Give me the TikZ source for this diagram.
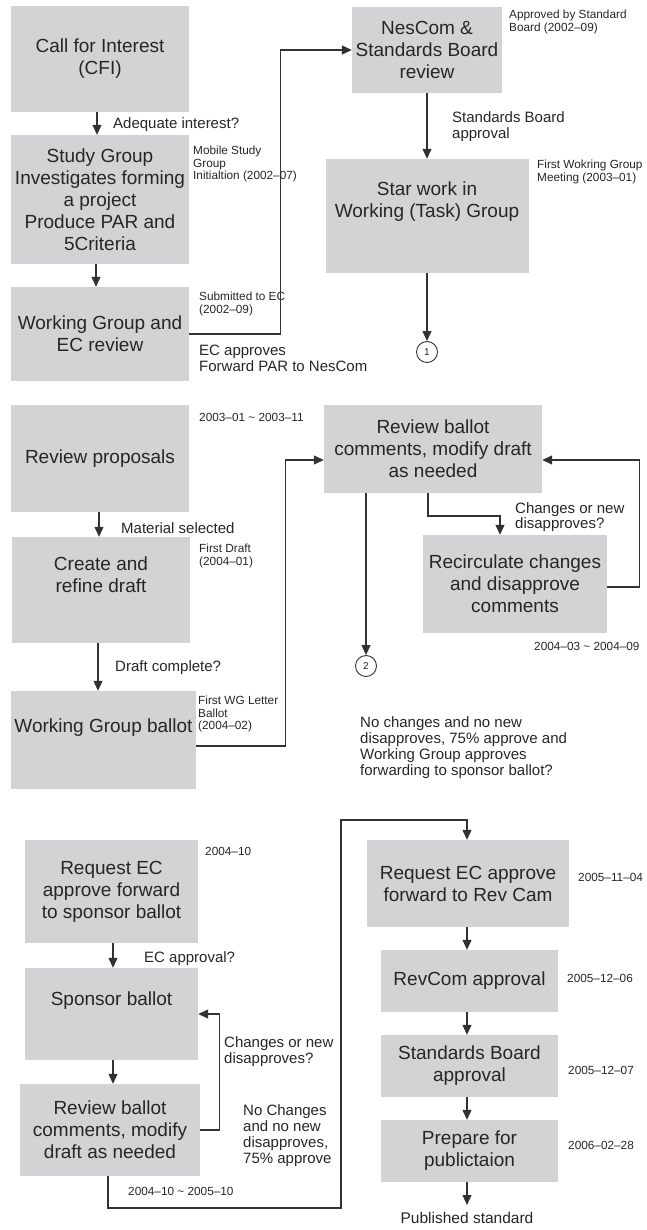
\documentclass[tikz,border=0pt]{standalone}
\usepackage{fontspec}
\setmainfont{Liberation Sans}
\usetikzlibrary{arrows.meta}
\definecolor{boxgray}{RGB}{211,211,213}
\definecolor{ink}{RGB}{38,38,38}
\definecolor{wirec}{RGB}{50,50,50}
\begin{document}
\begin{tikzpicture}[x=1pt,y=-1pt,
 box/.style={fill=boxgray, inner sep=0pt, align=center, font=\fontsize{19}{22}\selectfont, text=ink},
 lab/.style={inner sep=0pt, align=left, anchor=north west, font=\fontsize{15}{16}\selectfont, text=ink},
 note/.style={inner sep=0pt, align=left, anchor=north west, font=\fontsize{11.8}{12.5}\selectfont, text=ink},
 wire/.style={draw=wirec, line width=1.1pt},
 arr/.style={wire, -{Triangle[length=10pt,width=9pt]}},
 num/.style={circle, draw=wirec, line width=0.9pt, minimum size=21pt, inner sep=0pt, font=\fontsize{10}{10}\selectfont, text=ink}
]
\useasboundingbox (0,0) rectangle (647,1230);

% ---------- Section 1 ----------
\node[box, minimum width=178pt, minimum height=106pt] (cfi) at (100,59) {Call for Interest\\(CFI)};
\node[box, minimum width=178pt, minimum height=129pt] (sg) at (100,199.5) {Study Group\\Investigates forming\\a project\\Produce PAR and\\5Criteria};
\node[box, minimum width=178pt, minimum height=94pt] (wgec) at (100,334) {Working Group and\\EC review};
\node[box, minimum width=150pt, minimum height=86pt] (nescom) at (427,50) {NesCom \&\\Standards Board\\review};
\node[box, minimum width=203pt, minimum height=114pt] (star) at (427,216) {Star work in\\Working (Task) Group\\[10pt]};
\node[num] (c1) at (427,352) {1};

\node[lab] (l1) at (113,117) {Adequate interest?};
\node[note] (n1) at (193,146) {Mobile Study\\Group\\Initialtion (2002--07)};
\node[note] (n2) at (199,292) {Submitted to EC\\(2002--09)};
\node[lab] (l2) at (199,345) {EC approves\\Forward PAR to NesCom};
\node[note] (n3) at (509,10) {Approved by Standard\\Board (2002--09)};
\node[lab] (l3) at (452,111) {Standards Board\\approval};
\node[note] (n4) at (537,160) {First Wokring Group\\Meeting (2003--01)};

\draw[arr] ([xshift=-3pt]cfi.south) -- ([xshift=-3pt]sg.north);
\draw[arr] ([xshift=-4pt]sg.south) -- ([xshift=-4pt]wgec.north);
\draw[arr] (wgec.east) -- ++(91,0) |- (nescom.west);
\draw[arr] (nescom.south) -- (star.north);
\draw[arr] (star.south) -- (c1.north);

% ---------- Section 2 ----------
\node[box, minimum width=178pt, minimum height=107pt] (rp) at (100,458.5) {Review proposals};
\node[box, minimum width=178pt, minimum height=106pt] (crd) at (101,590) {Create and\\refine draft\\[8pt]};
\node[box, minimum width=185pt, minimum height=98pt] (wgb) at (103.5,740) {Working Group ballot\\[6pt]};
\node[box, minimum width=218pt, minimum height=88pt] (rbc) at (433,449) {Review ballot\\comments, modify draft\\as needed};
\node[box, minimum width=184pt, minimum height=98pt] (rc) at (515,584) {Recirculate changes\\and disapprove\\comments};
\node[num] (c2) at (366,666) {2};

\node[note] (n5) at (199,413) {2003--01 \textasciitilde{} 2003--11};
\node[lab] (l4) at (121,522) {Material selected};
\node[note] (n6) at (199,544) {First Draft\\(2004--01)};
\node[lab] (l5) at (115,660) {Draft complete?};
\node[note] (n7) at (198,696) {First WG Letter\\Ballot\\(2004--02)};
\node[lab, font=\fontsize{15}{15}\selectfont] (l6) at (515,502) {Changes or new\\disapproves?};
\node[note] (n8) at (534,642) {2004--03 \textasciitilde{} 2004--09};
\node[lab] (l7) at (360,716) {No changes and no new\\disapproves, 75\% approve and\\Working Group approves\\forwarding to sponsor ballot?};

\coordinate (k1) at (500,516);
\draw[arr] ([xshift=-1pt]rp.south) -- ([xshift=-2pt]crd.north);
\draw[arr] ([xshift=-3pt]crd.south) -- (crd.south -| 98,0) -- (98,0 |- wgb.north);
\draw[arr] ([yshift=-6pt]wgb.east) -- ++(89,0) |- ([yshift=-11pt]rbc.west);
\draw[arr] ([xshift=-5pt]rbc.south) |- (k1) -- (k1 |- rc.north);
\draw[arr] ([yshift=-3pt]rc.east) -- ++(32,0) |- ([yshift=-11pt]rbc.east);
\draw[arr] (c2 |- rbc.south) -- (c2.north);

% ---------- Section 3 ----------
\node[box, minimum width=173pt, minimum height=103pt] (rec) at (111.5,891.5) {Request EC\\approve forward\\to sponsor ballot};
\node[box, minimum width=173pt, minimum height=92pt] (sb) at (111.5,1014) {Sponsor ballot\\[8pt]};
\node[box, minimum width=180pt, minimum height=92pt] (rv2) at (110,1130) {Review ballot\\comments, modify\\draft as needed};
\node[box, minimum width=202pt, minimum height=87pt] (rea) at (468,883.5) {Request EC approve\\forward to Rev Cam};
\node[box, minimum width=177pt, minimum height=62pt] (revcom) at (469.5,981) {RevCom approval};
\node[box, minimum width=177pt, minimum height=62pt] (sba) at (469.5,1066) {Standards Board\\approval};
\node[box, minimum width=177pt, minimum height=62pt] (prep) at (469.5,1151) {Prepare for\\publictaion};
\node[lab, anchor=north, font=\fontsize{15.5}{16}\selectfont] (pub) at (467,1212) {Published standard};

\node[note] (n9) at (205,847) {2004--10};
\node[lab] (l8) at (144,951) {EC approval?};
\node[lab] (l9) at (224,1036) {Changes or new\\disapproves?};
\node[lab] (l10) at (243,1104) {No Changes\\and no new\\disapproves,\\75\% approve};
\node[note] (n10) at (128,1187) {2004--10 \textasciitilde{} 2005--10};
\node[note] (n11) at (578,873) {2005--11--04};
\node[note] (n12) at (567,974) {2005--12--06};
\node[note] (n13) at (568,1066) {2005--12--07};
\node[note] (n14) at (568,1141) {2006--02--28};

\coordinate (k2) at (341,1208);
\coordinate (k3) at (341,820);
\draw[arr] ([xshift=1.5pt]rec.south) -- ([xshift=1.5pt]sb.north);
\draw[arr] ([xshift=1.5pt]sb.south) -- ([xshift=1.5pt]sb.south |- rv2.north);
\draw[arr] (rv2.east) -- ++(19,0) |- (sb.east);
\draw[arr] ([xshift=-2pt]rv2.south) |- (k2) -- (k3) -| ([xshift=-1pt]rea.north);
\draw[arr] ([xshift=-1pt]rea.south) -- ([xshift=-1pt]rea.south |- revcom.north);
\draw[arr] ([xshift=-2.5pt]revcom.south) -- ([xshift=-2.5pt]sba.north);
\draw[arr] ([xshift=-2.5pt]sba.south) -- ([xshift=-2.5pt]prep.north);
\draw[arr] ([xshift=-2.5pt]prep.south) -- ([yshift=7pt]pub.north);
\end{tikzpicture}
\end{document}
